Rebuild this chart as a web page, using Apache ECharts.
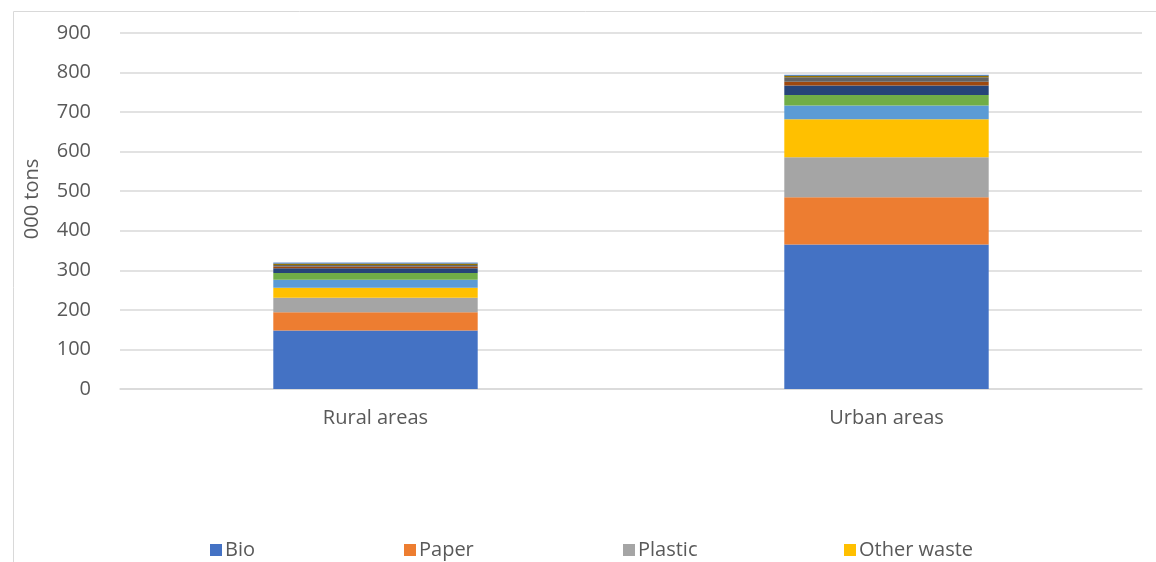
<!DOCTYPE html>
<html>
<head>
<meta charset="utf-8">
<script src="https://cdn.jsdelivr.net/npm/echarts@6/dist/echarts.min.js"></script>
<style>
  html, body { margin: 0; padding: 0; background: #fff; }
  #chart { width: 1156px; height: 562px; }
</style>
</head>
<body>
<div id="chart"></div>
<script>
// Municipal waste by fraction, rural vs urban areas (000 tons)
const categories = ['Rural areas', 'Urban areas'];
const fractions = ['Bio', 'Paper', 'Plastic', 'Other waste', 'Glass', 'Metal', 'Textiles',
                   'Wood', 'Hazardous waste', 'Electronic waste', 'Bulky waste', 'Rubber'];
const bio        = [148, 365];
const paper      = [46, 120];
const plastic    = [37, 101];
const otherWaste = [25, 96];
const glass      = [20, 35];
const metal      = [17, 26];
const textiles   = [12.5, 24];
const wood       = [4, 10];
const hazardous  = [4, 11];
const electronic = [3, 3];
const bulky      = [1.5, 2];
const rubber     = [1.5, 1.5];
const seriesValues = [bio, paper, plastic, otherWaste, glass, metal, textiles,
                      wood, hazardous, electronic, bulky, rubber];
const yTicks = { min: 0, max: 900, interval: 100 };
const yName = '000 tons';

const colors = ['#4472C4', '#ED7D31', '#A5A5A5', '#FFC000', '#5B9BD5', '#70AD47',
                '#264478', '#9E480E', '#636363', '#997300', '#255E91', '#698ED0'];

const font = '"Open Sans", Lato, sans-serif';
const textColor = '#595959';
const fontSize = 20;

// Legend laid out in rows of four; only the first row falls inside the frame
const legendCols = [205, 399, 618, 839];
const legends = fractions.map((name, i) => ({
  data: [name],
  left: legendCols[i % 4],
  top: 535 + Math.floor(i / 4) * 30,
  icon: 'rect',
  itemWidth: 12,
  itemHeight: 12,
  itemGap: 6,
  selectedMode: false,
  textStyle: { fontFamily: font, fontSize: fontSize, color: textColor, padding: [0, 0, 0, -2] }
}));

const chart = echarts.init(document.getElementById('chart'), null, { renderer: 'canvas' });
chart.setOption({
  animation: false,
  color: colors,
  graphic: [{
    type: 'rect',
    left: 11, top: 9,
    shape: { width: 1300, height: 700 },
    style: { fill: 'none', stroke: '#d9d9d9', lineWidth: 1 },
    silent: true,
    z: -1
  }],
  legend: legends,
  grid: { left: 120, right: 14, top: 33, bottom: 173 },
  xAxis: {
    type: 'category',
    data: categories,
    axisLine: { lineStyle: { color: '#d9d9d9', width: 1.5 } },
    axisTick: { show: false },
    axisLabel: { fontFamily: font, fontSize: fontSize, color: textColor, margin: 19 }
  },
  yAxis: {
    type: 'value',
    min: yTicks.min, max: yTicks.max, interval: yTicks.interval,
    name: yName,
    nameLocation: 'middle',
    nameGap: 78,
    nameTextStyle: { fontFamily: font, fontSize: fontSize, color: textColor, padding: [0, 0, 0, 24] },
    axisLine: { show: false },
    axisTick: { show: false },
    axisLabel: { fontFamily: font, fontSize: fontSize, color: textColor, margin: 29 },
    splitLine: { lineStyle: { color: '#d9d9d9', width: 1.5 } }
  },
  series: fractions.map((name, i) => ({
    name: name,
    type: 'bar',
    stack: 'total',
    barCategoryGap: '60%',
    data: seriesValues[i]
  }))
});
</script>
</body>
</html>
